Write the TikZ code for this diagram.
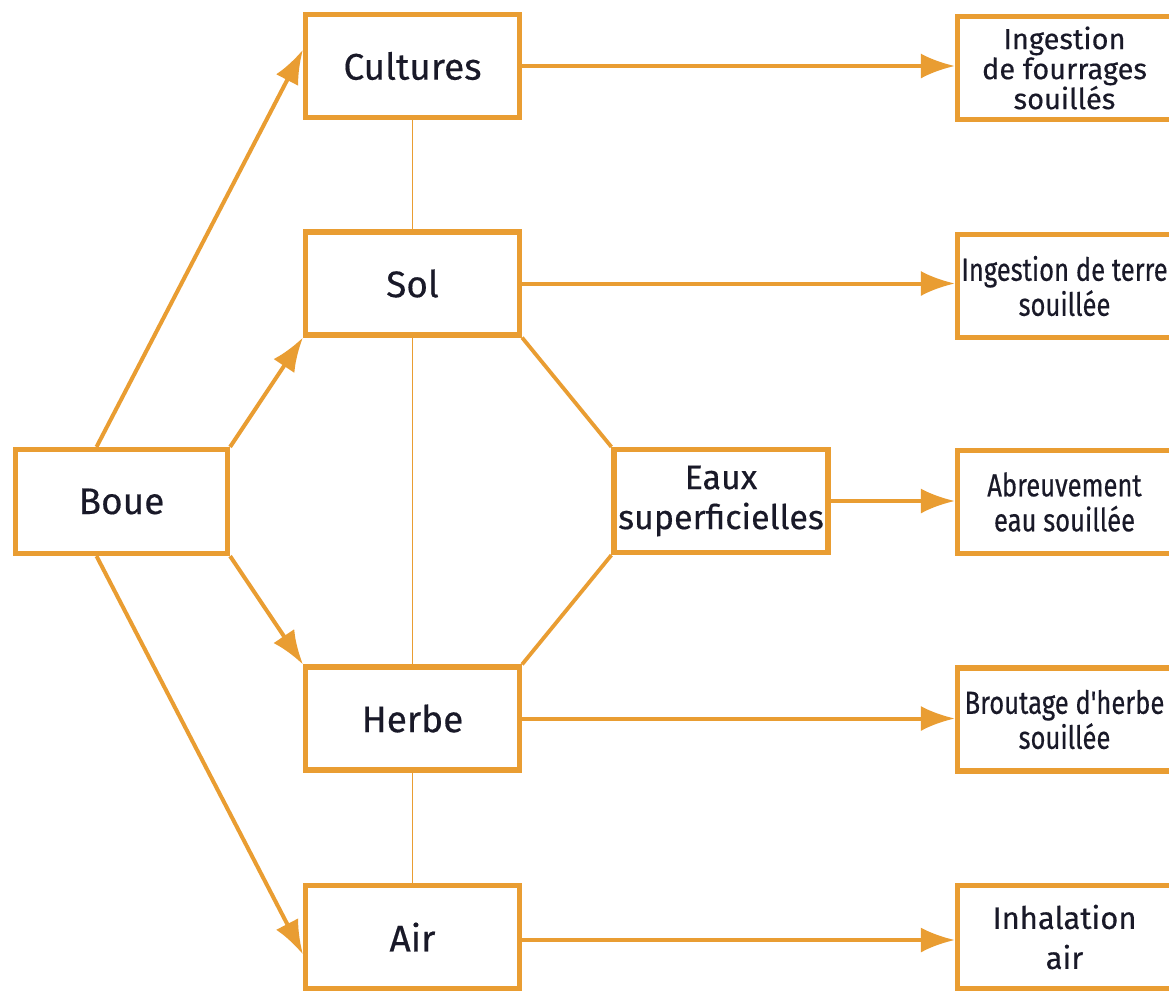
\documentclass[tikz,border=0pt]{standalone}
\usepackage{fontspec}
\setmainfont{Fira Sans}[FakeBold=0.4]
\newfontfamily\condfont{Fira Sans}[FakeStretch=0.8,FakeBold=0.4]
\usetikzlibrary{arrows.meta,calc}
\definecolor{org}{RGB}{233,157,50}
\definecolor{ink}{RGB}{25,25,40}
\begin{document}
\begin{tikzpicture}[x=0.5pt,y=-0.5pt,
  box/.style={draw=org, line width=2.6pt, fill=white, minimum width=107pt, minimum height=51.5pt,
    inner sep=0pt, text=ink, align=center, font=\fontsize{18.5}{21}\selectfont},
  outbox/.style={box, font=\fontsize{14.5}{15}\selectfont},
  condbox/.style={box, font=\condfont\fontsize{16}{17.5}\selectfont},
  arr/.style={draw=org, line width=2pt, -{Latex[length=17pt,width=12.5pt]}},
  link/.style={draw=org, line width=1.9pt},
  thinlink/.style={draw=org, line width=0.9pt}]
\fill[white] (0,0) rectangle (1169,991);
\useasboundingbox (0,0) rectangle (1169,991);
% middle column
\node[box] (cult) at (412.5,66) {Cultures};
\node[box] (sol) at (412.5,283.5) {Sol};
\node[box] (herbe) at (412.5,718.5) {Herbe};
\node[box] (air) at (412.5,937) {Air};
\node[box, minimum width=106pt, minimum height=52pt] (boue) at (121.5,501.5) {Boue};
\node[box, font=\fontsize{17}{20}\selectfont] (eaux) at (721,501) {Eaux\\superficielles};
% right column
\node[outbox] (ing) at (1064.5,68) {Ingestion\\de fourrages\\souillés};
\node[condbox] (terre) at (1064.5,286) {Ingestion de terre\\souillée};
\node[condbox] (abr) at (1064.5,502) {Abreuvement\\eau souillée};
\node[condbox] (brout) at (1064.5,719.5) {Broutage d'herbe\\souillée};
\node[box, font=\fontsize{15.5}{20}\selectfont] (inh) at (1064.5,937) {Inhalation\\air};
% thin vertical links
\draw[thinlink] (cult.south) -- (sol.north);
\draw[thinlink] (sol.south) -- (herbe.north);
\draw[thinlink] (herbe.south) -- (air.north);
% octagon sides
\draw[link] (sol.south east) -- (eaux.north west);
\draw[link] (eaux.south west) -- (herbe.north east);
% arrows from Boue
\draw[arr] ($(boue.north west)!0.385!(boue.north east)$) -- ($(cult.north west)!0.35!(cult.south west)$);
\draw[arr] (boue.north east) -- (sol.south west);
\draw[arr] (boue.south east) -- (herbe.north west);
\draw[arr] ($(boue.south west)!0.385!(boue.south east)$) -- ($(air.north west)!0.66!(air.south west)$);
% horizontal arrows
\coordinate (airout) at ($(air.east)+(0,3)$);
\draw[arr] (cult.east) -- (cult.east -| ing.west);
\draw[arr] (sol.east) -- (sol.east -| terre.west);
\draw[arr] (eaux.east) -- (eaux.east -| abr.west);
\draw[arr] (herbe.east) -- (herbe.east -| brout.west);
\draw[arr] (airout) -- (airout -| inh.west);
\end{tikzpicture}
\end{document}
